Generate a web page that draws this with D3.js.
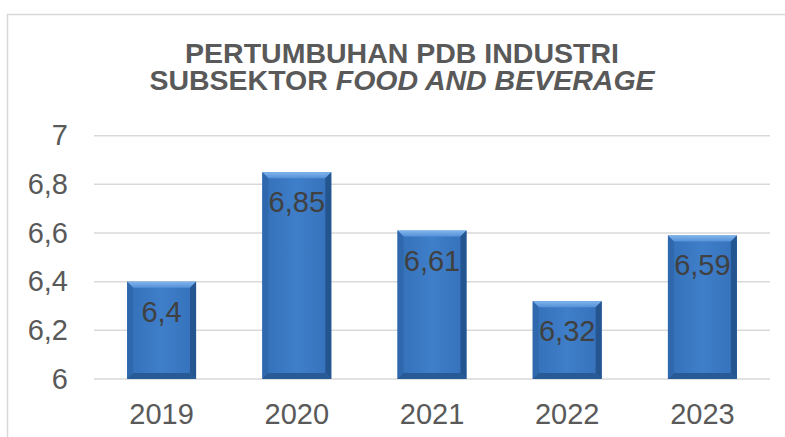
<!DOCTYPE html>
<html>
<head>
<meta charset="utf-8">
<script src="https://cdn.jsdelivr.net/npm/d3@7"></script>
<style>
  body { margin: 0; background: #fff; }
  svg { display: block; font-family: "Liberation Sans", Arial, sans-serif; }
</style>
</head>
<body>
<div id="main"></div>
<script>
const years = ["2019", "2020", "2021", "2022", "2023"];
const growth = [6.4, 6.85, 6.61, 6.32, 6.59];
const yTicks = [6, 6.2, 6.4, 6.6, 6.8, 7];

const ctx = {
    w: 785,
    h: 437,
    left: 94,
    right: 770,
    top: 135.7,
    bottom: 379,
    BEVEL: 6,
    NUM_SIZE: 29,
};

const fmt = (v) => String(v).replace(".", ",");

function createViz(){
    let svgEl = d3.select("#main").append("svg")
        .attr("width", ctx.w)
        .attr("height", ctx.h);

    // gradients for the bevelled bars
    let defs = svgEl.append("defs");
    let gMain = defs.append("linearGradient").attr("id", "barMain")
        .attr("x1", 0).attr("x2", 1).attr("y1", 0).attr("y2", 0);
    [["0%", "#3370b8"], ["50%", "#3f7ec9"], ["100%", "#3571ba"]].forEach(function(s){
        gMain.append("stop").attr("offset", s[0]).attr("stop-color", s[1]);
    });
    let gTop = defs.append("linearGradient").attr("id", "barTop")
        .attr("x1", 0).attr("x2", 0).attr("y1", 0).attr("y2", 1);
    [["0%", "#80b5ec"], ["100%", "#5591d8"]].forEach(function(s){
        gTop.append("stop").attr("offset", s[0]).attr("stop-color", s[1]);
    });

    // chart frame
    svgEl.append("rect")
        .attr("x", 7.5).attr("y", 14.5)
        .attr("width", 800).attr("height", 440)
        .attr("fill", "none")
        .attr("stroke", "#d9d9d9")
        .attr("stroke-width", 1.5);

    // title, two lines
    svgEl.append("text")
        .attr("x", 402).attr("y", 63)
        .attr("text-anchor", "middle")
        .attr("fill", "#595959")
        .attr("font-weight", "bold")
        .attr("font-size", 28.5)
        .text("PERTUMBUHAN PDB INDUSTRI");
    let l2 = svgEl.append("text")
        .attr("x", 402).attr("y", 90)
        .attr("text-anchor", "middle")
        .attr("fill", "#595959")
        .attr("font-weight", "bold")
        .attr("font-size", 28.5);
    l2.append("tspan").text("SUBSEKTOR ");
    l2.append("tspan").attr("font-style", "italic").text("FOOD AND BEVERAGE");

    let x = d3.scaleBand().domain(years).range([ctx.left, ctx.right]).paddingInner(0.49).paddingOuter(0.245);
    let y = d3.scaleLinear().domain([6, 7]).range([ctx.bottom, ctx.top]);

    // gridlines
    svgEl.append("g").selectAll("line")
        .data(yTicks)
        .enter()
        .append("line")
        .attr("x1", ctx.left).attr("x2", ctx.right)
        .attr("y1", (d) => y(d)).attr("y2", (d) => y(d))
        .attr("stroke", "#d9d9d9")
        .attr("stroke-width", 1.5);

    // y axis labels
    let yAxis = svgEl.append("g")
        .attr("transform", `translate(${ctx.left - 26},0)`)
        .call(d3.axisLeft(y).tickValues(yTicks).tickSize(0).tickPadding(0).tickFormat(fmt));
    yAxis.select(".domain").remove();
    yAxis.selectAll("text")
        .attr("font-size", ctx.NUM_SIZE)
        .attr("font-family", "Liberation Sans, Arial, sans-serif")
        .attr("fill", "#595959");

    // x axis labels
    let xAxis = svgEl.append("g")
        .attr("transform", `translate(0,${ctx.bottom})`)
        .call(d3.axisBottom(x).tickSize(0).tickPadding(0));
    xAxis.select(".domain").remove();
    xAxis.selectAll("text")
        .attr("dy", null)
        .attr("y", 45)
        .attr("font-size", ctx.NUM_SIZE)
        .attr("font-family", "Liberation Sans, Arial, sans-serif")
        .attr("fill", "#595959");

    // bars
    let data = years.map((d, i) => ({year: d, value: growth[i]}));
    let b = ctx.BEVEL;
    let bars = svgEl.append("g").selectAll("g")
        .data(data)
        .enter()
        .append("g");

    bars.append("rect")
        .attr("x", (d) => x(d.year))
        .attr("y", (d) => y(d.value))
        .attr("width", x.bandwidth())
        .attr("height", (d) => y(6) - y(d.value))
        .attr("fill", "url(#barMain)");

    function poly(pts){ return "M" + pts.map((p) => p.join(",")).join("L") + "Z"; }

    // top bevel
    bars.append("path")
        .attr("d", function(d){
            let x0 = x(d.year), x1 = x0 + x.bandwidth(), y0 = y(d.value);
            return poly([[x0, y0], [x1, y0], [x1 - b, y0 + b], [x0 + b, y0 + b]]);
        })
        .attr("fill", "url(#barTop)");
    // left bevel
    bars.append("path")
        .attr("d", function(d){
            let x0 = x(d.year), y0 = y(d.value), y1 = y(6);
            return poly([[x0, y0], [x0 + b, y0 + b], [x0 + b, y1 - b], [x0, y1]]);
        })
        .attr("fill", "#2f68ad");
    // right bevel
    bars.append("path")
        .attr("d", function(d){
            let x1 = x(d.year) + x.bandwidth(), y0 = y(d.value), y1 = y(6);
            return poly([[x1, y0], [x1 - b, y0 + b], [x1 - b, y1 - b], [x1, y1]]);
        })
        .attr("fill", "#25558f");
    // bottom bevel
    bars.append("path")
        .attr("d", function(d){
            let x0 = x(d.year), x1 = x0 + x.bandwidth(), y1 = y(6);
            return poly([[x0, y1], [x1, y1], [x1 - b, y1 - b], [x0 + b, y1 - b]]);
        })
        .attr("fill", "#285a96");

    // value labels
    bars.append("text")
        .attr("x", (d) => x(d.year) + x.bandwidth() / 2)
        .attr("y", (d) => y(d.value) + 40)
        .attr("text-anchor", "middle")
        .attr("font-size", ctx.NUM_SIZE)
        .attr("fill", "#404040")
        .text((d) => fmt(d.value));
}

createViz();
</script>
</body>
</html>
